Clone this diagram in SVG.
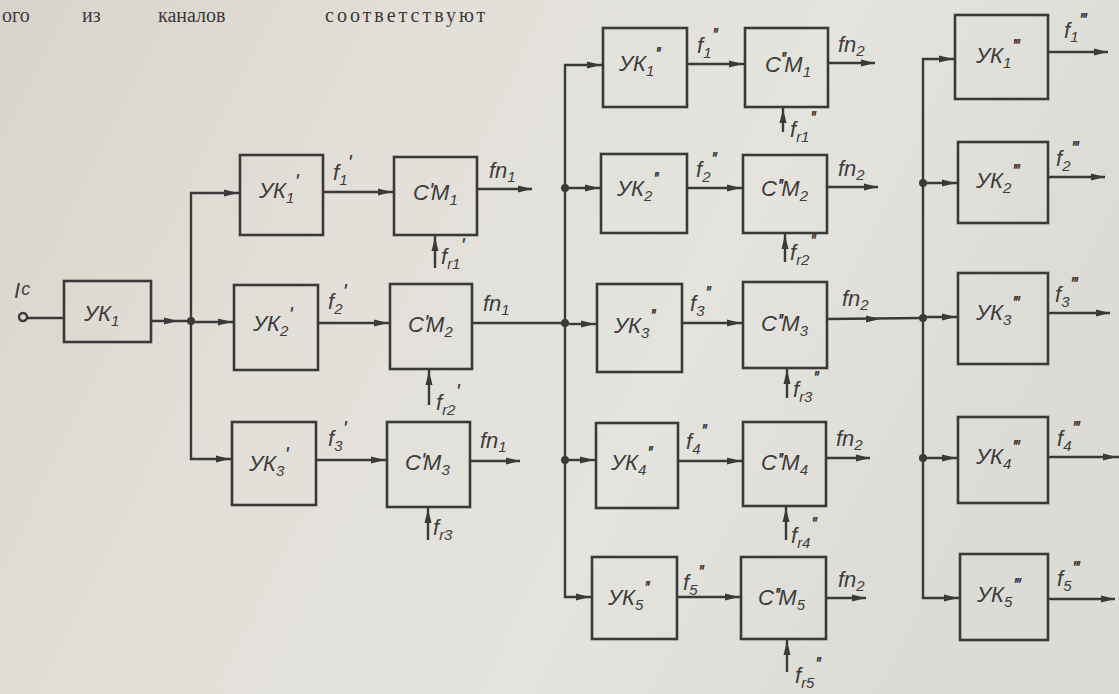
<svg xmlns="http://www.w3.org/2000/svg" xmlns:xlink="http://www.w3.org/1999/xlink" width="1119" height="694" viewBox="0 0 1119 694">
<style>
.bx{fill:none;stroke:#3a3a3a;stroke-width:2.6}
.ln{fill:none;stroke:#3a3a3a;stroke-width:2.4}
.lb{font-family:"Liberation Sans","DejaVu Sans",sans-serif;font-style:italic;font-size:22px;fill:#3d3d3d}
.sb{font-size:15px}
.sp{font-size:22px;letter-spacing:-2px}
.tt{font-family:"Liberation Serif","DejaVu Serif",serif;font-size:20px;fill:#3a3a3a}
</style>
<defs>
<linearGradient id="bg" x1="0" y1="0" x2="1" y2="0.3">
<stop offset="0" stop-color="#d9d4cb"/>
<stop offset="0.35" stop-color="#e2dfd8"/>
<stop offset="0.7" stop-color="#e4e3de"/>
<stop offset="1" stop-color="#dcdbd6"/>
</linearGradient>
<path id="ah" d="M0,0 L-14,-3.5 L-14,3.5 Z" fill="#3a3a3a"/>
<path id="au" d="M0,0 L-3.5,14 L3.5,14 Z" fill="#3a3a3a"/>
</defs>
<rect width="1119" height="694" fill="url(#bg)"/>
<g id="caption">
<text class="tt" x="2" y="22">ого</text>
<text class="tt" x="82" y="22">из</text>
<text class="tt" x="158" y="22">каналов</text>
<text class="tt" x="325" y="22" letter-spacing="3">соответствуют</text>
</g>
<g id="connectors">
<circle cx="23" cy="317" r="4" class="ln"/>
<line x1="27" y1="318" x2="64" y2="318" class="ln"/>
<line x1="151" y1="321" x2="191" y2="321" class="ln"/>
<use xlink:href="#ah" x="178" y="321"/>
<circle cx="191" cy="321" r="4" fill="#3a3a3a"/>
<polyline points="240,193 191,193 191,459 232,459" class="ln"/>
<line x1="191" y1="322" x2="234" y2="322" class="ln"/>
<use xlink:href="#ah" x="238" y="193"/>
<use xlink:href="#ah" x="232" y="322"/>
<use xlink:href="#ah" x="230" y="459"/>
<line x1="323" y1="192" x2="394" y2="192" class="ln"/>
<use xlink:href="#ah" x="392" y="192"/>
<line x1="477" y1="189" x2="532" y2="189" class="ln"/>
<use xlink:href="#ah" x="532" y="189"/>
<line x1="435" y1="268" x2="435" y2="235" class="ln"/>
<use xlink:href="#au" x="435" y="237"/>
<line x1="318" y1="323" x2="390" y2="323" class="ln"/>
<use xlink:href="#ah" x="388" y="323"/>
<line x1="472" y1="323" x2="565" y2="323" class="ln"/>
<line x1="429" y1="405" x2="429" y2="369" class="ln"/>
<use xlink:href="#au" x="429" y="371"/>
<line x1="316" y1="460" x2="387" y2="460" class="ln"/>
<use xlink:href="#ah" x="385" y="460"/>
<line x1="470" y1="461" x2="520" y2="461" class="ln"/>
<use xlink:href="#ah" x="520" y="461"/>
<line x1="428" y1="540" x2="428" y2="507" class="ln"/>
<use xlink:href="#au" x="428" y="509"/>
<polyline points="603,65 565,65 565,597 592,597" class="ln"/>
<circle cx="565" cy="188" r="4" fill="#3a3a3a"/>
<circle cx="565" cy="323" r="4" fill="#3a3a3a"/>
<circle cx="565" cy="460" r="4" fill="#3a3a3a"/>
<line x1="565" y1="188" x2="601" y2="188" class="ln"/>
<line x1="565" y1="324" x2="597" y2="324" class="ln"/>
<line x1="565" y1="460" x2="596" y2="460" class="ln"/>
<use xlink:href="#ah" x="601" y="65"/>
<use xlink:href="#ah" x="599" y="188"/>
<use xlink:href="#ah" x="595" y="324"/>
<use xlink:href="#ah" x="594" y="460"/>
<use xlink:href="#ah" x="590" y="597"/>
<line x1="687" y1="64" x2="745" y2="64" class="ln"/>
<use xlink:href="#ah" x="743" y="64"/>
<line x1="828" y1="63" x2="875" y2="63" class="ln"/>
<use xlink:href="#ah" x="875" y="63"/>
<line x1="783" y1="132" x2="783" y2="107" class="ln"/>
<use xlink:href="#au" x="783" y="109"/>
<line x1="687" y1="188" x2="743" y2="188" class="ln"/>
<use xlink:href="#ah" x="741" y="188"/>
<line x1="827" y1="187" x2="878" y2="187" class="ln"/>
<use xlink:href="#ah" x="878" y="187"/>
<line x1="785" y1="262" x2="785" y2="233" class="ln"/>
<use xlink:href="#au" x="785" y="235"/>
<line x1="682" y1="323" x2="743" y2="323" class="ln"/>
<use xlink:href="#ah" x="741" y="323"/>
<line x1="827" y1="319" x2="923" y2="318" class="ln"/>
<use xlink:href="#ah" x="880" y="319"/>
<line x1="787" y1="398" x2="787" y2="368" class="ln"/>
<use xlink:href="#au" x="787" y="370"/>
<line x1="678" y1="461" x2="743" y2="461" class="ln"/>
<use xlink:href="#ah" x="741" y="461"/>
<line x1="826" y1="458" x2="870" y2="458" class="ln"/>
<use xlink:href="#ah" x="870" y="458"/>
<line x1="786" y1="540" x2="786" y2="506" class="ln"/>
<use xlink:href="#au" x="786" y="508"/>
<line x1="677" y1="597" x2="741" y2="597" class="ln"/>
<use xlink:href="#ah" x="739" y="597"/>
<line x1="826" y1="598" x2="866" y2="598" class="ln"/>
<use xlink:href="#ah" x="866" y="598"/>
<line x1="787" y1="672" x2="787" y2="639" class="ln"/>
<use xlink:href="#au" x="787" y="641"/>
<polyline points="955,59 923,59 923,598 960,598" class="ln"/>
<circle cx="923" cy="183" r="4" fill="#3a3a3a"/>
<circle cx="923" cy="318" r="4" fill="#3a3a3a"/>
<circle cx="923" cy="458" r="4" fill="#3a3a3a"/>
<line x1="923" y1="183" x2="958" y2="183" class="ln"/>
<line x1="923" y1="317" x2="958" y2="317" class="ln"/>
<line x1="923" y1="458" x2="958" y2="458" class="ln"/>
<use xlink:href="#ah" x="953" y="59"/>
<use xlink:href="#ah" x="956" y="183"/>
<use xlink:href="#ah" x="956" y="317"/>
<use xlink:href="#ah" x="956" y="458"/>
<use xlink:href="#ah" x="958" y="598"/>
<line x1="1048" y1="52" x2="1108" y2="52" class="ln"/>
<use xlink:href="#ah" x="1108" y="52"/>
<line x1="1048" y1="177" x2="1105" y2="177" class="ln"/>
<use xlink:href="#ah" x="1105" y="177"/>
<line x1="1048" y1="313" x2="1110" y2="313" class="ln"/>
<use xlink:href="#ah" x="1110" y="313"/>
<line x1="1048" y1="457" x2="1119" y2="457" class="ln"/>
<use xlink:href="#ah" x="1117" y="457"/>
<line x1="1048" y1="599" x2="1115" y2="599" class="ln"/>
<use xlink:href="#ah" x="1115" y="599"/>
</g>
<g id="input-label"><text class="lb" x="14" y="298">I<tspan font-size="18px" dx="1" dy="-3">с</tspan></text></g>
<g id="uk1"><rect class="bx" x="64" y="281" width="87" height="61"/><text class="lb" x="84" y="321">УК<tspan class="sb" dy="5">1</tspan></text></g>
<g id="uk1p"><rect class="bx" x="240" y="155" width="83" height="80"/><text class="lb" x="259" y="198">УК<tspan class="sb" dy="5">1</tspan><tspan class="sp" dy="-14">'</tspan></text></g>
<g id="cm1p"><rect class="bx" x="394" y="157" width="83" height="78"/><text class="lb" x="413" y="200">С<tspan class="sp" dy="-2">'</tspan><tspan dy="2">М</tspan><tspan class="sb" dy="5">1</tspan></text></g>
<g id="uk2p"><rect class="bx" x="234" y="285" width="84" height="85"/><text class="lb" x="253" y="331">УК<tspan class="sb" dy="5">2</tspan><tspan class="sp" dy="-14">'</tspan></text></g>
<g id="cm2p"><rect class="bx" x="390" y="284" width="82" height="85"/><text class="lb" x="408" y="332">С<tspan class="sp" dy="-2">'</tspan><tspan dy="2">М</tspan><tspan class="sb" dy="5">2</tspan></text></g>
<g id="uk3p"><rect class="bx" x="232" y="422" width="84" height="83"/><text class="lb" x="249" y="471">УК<tspan class="sb" dy="5">3</tspan><tspan class="sp" dy="-14">'</tspan></text></g>
<g id="cm3p"><rect class="bx" x="387" y="422" width="83" height="85"/><text class="lb" x="405" y="470">С<tspan class="sp" dy="-2">'</tspan><tspan dy="2">М</tspan><tspan class="sb" dy="5">3</tspan></text></g>
<g id="labels1">
<text class="lb" x="333" y="180">f<tspan class="sb" dy="5">1</tspan><tspan class="sp" dy="-15">'</tspan></text>
<text class="lb" x="489" y="178">fn<tspan class="sb" dy="4">1</tspan></text>
<text class="lb" x="441" y="264">f<tspan class="sb" dy="5">r1</tspan><tspan class="sp" dy="-16">'</tspan></text>
<text class="lb" x="328" y="309">f<tspan class="sb" dy="5">2</tspan><tspan class="sp" dy="-15">'</tspan></text>
<text class="lb" x="483" y="311">fn<tspan class="sb" dy="4">1</tspan></text>
<text class="lb" x="436" y="410">f<tspan class="sb" dy="5">r2</tspan><tspan class="sp" dy="-16">'</tspan></text>
<text class="lb" x="328" y="446">f<tspan class="sb" dy="5">3</tspan><tspan class="sp" dy="-15">'</tspan></text>
<text class="lb" x="480" y="448">fn<tspan class="sb" dy="4">1</tspan></text>
<text class="lb" x="433" y="535">f<tspan class="sb" dy="5">r3</tspan></text>
</g>
<g id="uk1pp"><rect class="bx" x="603" y="28" width="84" height="79"/><text class="lb" x="619" y="71">УК<tspan class="sb" dy="5">1</tspan><tspan class="sp" dy="-14">''</tspan></text></g>
<g id="cm1pp"><rect class="bx" x="745" y="28" width="83" height="79"/><text class="lb" x="765" y="72">С<tspan class="sp" dx="-1" dy="-5">''</tspan><tspan dy="5">М</tspan><tspan class="sb" dy="5">1</tspan></text></g>
<g id="uk2pp"><rect class="bx" x="601" y="154" width="86" height="79"/><text class="lb" x="617" y="196">УК<tspan class="sb" dy="5">2</tspan><tspan class="sp" dy="-14">''</tspan></text></g>
<g id="cm2pp"><rect class="bx" x="743" y="155" width="84" height="78"/><text class="lb" x="761" y="196">С<tspan class="sp" dy="-2">''</tspan><tspan dy="2">М</tspan><tspan class="sb" dy="5">2</tspan></text></g>
<g id="uk3pp"><rect class="bx" x="597" y="284" width="85" height="88"/><text class="lb" x="614" y="333">УК<tspan class="sb" dy="5">3</tspan><tspan class="sp" dy="-14">''</tspan></text></g>
<g id="cm3pp"><rect class="bx" x="743" y="282" width="84" height="86"/><text class="lb" x="761" y="331">С<tspan class="sp" dy="-2">''</tspan><tspan dy="2">М</tspan><tspan class="sb" dy="5">3</tspan></text></g>
<g id="uk4pp"><rect class="bx" x="596" y="423" width="82" height="85"/><text class="lb" x="611" y="470">УК<tspan class="sb" dy="5">4</tspan><tspan class="sp" dy="-14">''</tspan></text></g>
<g id="cm4pp"><rect class="bx" x="743" y="422" width="83" height="84"/><text class="lb" x="761" y="470">С<tspan class="sp" dy="-2">''</tspan><tspan dy="2">М</tspan><tspan class="sb" dy="5">4</tspan></text></g>
<g id="uk5pp"><rect class="bx" x="592" y="557" width="85" height="82"/><text class="lb" x="608" y="605">УК<tspan class="sb" dy="5">5</tspan><tspan class="sp" dy="-14">''</tspan></text></g>
<g id="cm5pp"><rect class="bx" x="741" y="557" width="85" height="82"/><text class="lb" x="758" y="605">С<tspan class="sp" dy="-2">''</tspan><tspan dy="2">М</tspan><tspan class="sb" dy="5">5</tspan></text></g>
<g id="labels2">
<text class="lb" x="697" y="53">f<tspan class="sb" dy="5">1</tspan><tspan class="sp" dy="-15">''</tspan></text>
<text class="lb" x="838" y="52">fn<tspan class="sb" dy="4">2</tspan></text>
<text class="lb" x="790" y="137">f<tspan class="sb" dy="5">r1</tspan><tspan class="sp" dy="-16">''</tspan></text>
<text class="lb" x="696" y="177">f<tspan class="sb" dy="5">2</tspan><tspan class="sp" dy="-15">''</tspan></text>
<text class="lb" x="838" y="176">fn<tspan class="sb" dy="4">2</tspan></text>
<text class="lb" x="790" y="260">f<tspan class="sb" dy="5">r2</tspan><tspan class="sp" dy="-16">''</tspan></text>
<text class="lb" x="690" y="311">f<tspan class="sb" dy="5">3</tspan><tspan class="sp" dy="-15">''</tspan></text>
<text class="lb" x="842" y="306">fn<tspan class="sb" dy="4">2</tspan></text>
<text class="lb" x="793" y="397">f<tspan class="sb" dy="5">r3</tspan><tspan class="sp" dy="-16">''</tspan></text>
<text class="lb" x="686" y="449">f<tspan class="sb" dy="5">4</tspan><tspan class="sp" dy="-15">''</tspan></text>
<text class="lb" x="836" y="446">fn<tspan class="sb" dy="4">2</tspan></text>
<text class="lb" x="791" y="543">f<tspan class="sb" dy="5">r4</tspan><tspan class="sp" dy="-16">''</tspan></text>
<text class="lb" x="683" y="590">f<tspan class="sb" dy="5">5</tspan><tspan class="sp" dy="-15">''</tspan></text>
<text class="lb" x="838" y="587">fn<tspan class="sb" dy="4">2</tspan></text>
<text class="lb" x="795" y="683">f<tspan class="sb" dy="5">r5</tspan><tspan class="sp" dy="-16">''</tspan></text>
</g>
<g id="uk1ppp"><rect class="bx" x="955" y="15" width="93" height="84"/><text class="lb" x="976" y="63">УК<tspan class="sb" dy="5">1</tspan><tspan class="sp" dy="-14">'''</tspan></text></g>
<g id="uk2ppp"><rect class="bx" x="958" y="142" width="90" height="81"/><text class="lb" x="976" y="188">УК<tspan class="sb" dy="5">2</tspan><tspan class="sp" dy="-14">'''</tspan></text></g>
<g id="uk3ppp"><rect class="bx" x="958" y="273" width="90" height="91"/><text class="lb" x="976" y="320">УК<tspan class="sb" dy="5">3</tspan><tspan class="sp" dy="-14">'''</tspan></text></g>
<g id="uk4ppp"><rect class="bx" x="958" y="417" width="90" height="86"/><text class="lb" x="976" y="464">УК<tspan class="sb" dy="5">4</tspan><tspan class="sp" dy="-14">'''</tspan></text></g>
<g id="uk5ppp"><rect class="bx" x="960" y="554" width="88" height="86"/><text class="lb" x="977" y="602">УК<tspan class="sb" dy="5">5</tspan><tspan class="sp" dy="-14">'''</tspan></text></g>
<g id="labels3">
<text class="lb" x="1064" y="38">f<tspan class="sb" dy="4">1</tspan><tspan class="sp" dy="-14">'''</tspan></text>
<text class="lb" x="1056" y="166">f<tspan class="sb" dy="5">2</tspan><tspan class="sp" dy="-15">'''</tspan></text>
<text class="lb" x="1055" y="302">f<tspan class="sb" dy="5">3</tspan><tspan class="sp" dy="-15">'''</tspan></text>
<text class="lb" x="1057" y="446">f<tspan class="sb" dy="5">4</tspan><tspan class="sp" dy="-15">'''</tspan></text>
<text class="lb" x="1057" y="586">f<tspan class="sb" dy="5">5</tspan><tspan class="sp" dy="-15">'''</tspan></text>
</g>
</svg>
